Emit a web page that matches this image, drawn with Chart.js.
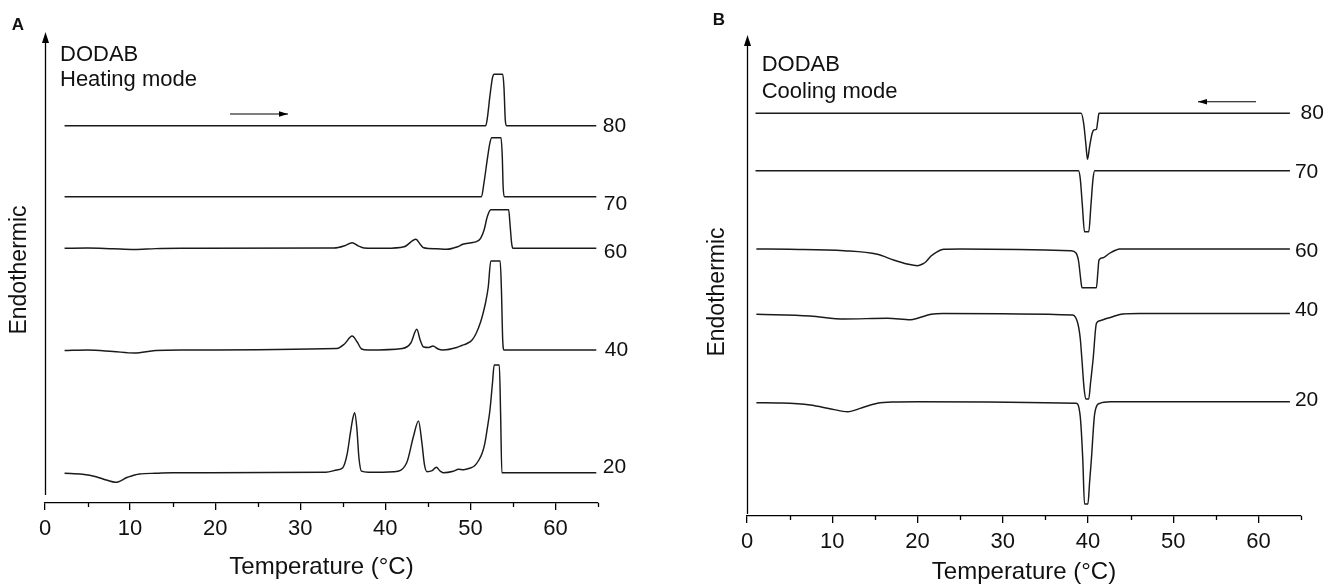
<!DOCTYPE html>
<html><head><meta charset="utf-8">
<script src="https://cdn.jsdelivr.net/npm/chart.js@4.4.1/dist/chart.umd.min.js"></script>
<style>
html,body{margin:0;padding:0;background:#fff;}
#wrap{position:relative;width:1335px;height:584px;background:#fff;}
.panel{position:absolute;top:0;height:584px;}
#pA{left:0;width:667px;} #pB{left:667px;width:668px;}
</style></head><body>
<div id="wrap">
<div class="panel" id="pA"><canvas id="cA" width="667" height="584"></canvas></div>
<div class="panel" id="pB"><canvas id="cB" width="668" height="584"></canvas></div>
</div>
<script>
// ---------- data ----------
const xTicksMajor = [0,10,20,30,40,50,60];
const tickLabels  = ['0','10','20','30','40','50','60'];
const xTicksMinor = [5,15,25,35,45,55,65];
const rateLabels  = ['80','70','60','40','20'];

// Heating mode (panel A): temperature (°C) and heat flow relative to baseline (a.u.)
const heatOffsets = [377.3, 306.3, 254.7, 153, 30.3];
const heatT80 = [2.3, 30, 51.8, 52.0, 52.3, 52.6, 52.8, 53.8, 53.95, 54.1, 54.25, 64.8];
const heatQ80 = [0, 0, 0, 8, 30, 48, 51.4, 51.4, 38, 6, 0, 0];
const heatT70 = [2.3, 30, 51.3, 51.6, 52.0, 52.3, 52.5, 53.6, 53.75, 53.85, 54.0, 64.8];
const heatQ70 = [0, 0, 0, 14, 38, 54, 59, 59, 40, 10, 0, 0];
const heatT60 = [2.3, 5, 8, 10.5, 13, 16, 34, 35.2, 36.1, 36.8, 37.5, 40, 42.2, 43.6, 44.1, 44.5, 46, 47.2, 48.5, 49.1, 50.1, 50.7, 51.2, 51.6, 52.0, 52.4, 54.5, 54.65, 54.85, 55.0, 64.8];
const heatQ60 = [0, 0.3, -0.5, -1.2, -0.3, 0, 0.3, 2.5, 5.6, 2.5, 0.3, 0, 1.5, 9, 4, 0.5, -0.5, -1, 1.5, 4, 5.5, 6.6, 10, 18, 32, 38.6, 38.6, 25, 5, 0, 0];
const heatT40 = [2.3, 5, 8, 10.5, 13, 16, 34.3, 35.2, 36.1, 36.7, 37.2, 38, 42, 43, 43.7, 44.1, 44.5, 45.1, 45.6, 46.2, 46.8, 48.4, 49.0, 49.6, 50.2, 50.7, 51.2, 51.5, 51.8, 52.1, 52.4, 53.5, 53.65, 53.8, 53.95, 64.8];
const heatQ40 = [-0.5, 0, -1.5, -3, -0.5, 0, 1.5, 6, 14, 8, 1, 0, 1.5, 7, 20.7, 10, 3, 2.5, 4, 1, 0, 2.5, 4.5, 6.5, 10, 17, 28, 37, 48, 63, 89, 89, 60, 10, 0, 0];
const heatT20 = [2.3, 4.4, 6, 7.2, 8.3, 9.7, 11.1, 13, 15, 33, 34.3, 35.0, 35.5, 35.9, 36.2, 36.4, 36.65, 36.9, 37.2, 38, 41, 42.5, 43.3, 43.9, 44.3, 44.6, 44.9, 45.5, 46.0, 46.4, 46.8, 48.0, 48.6, 49.2, 49.9, 50.5, 51.0, 51.4, 51.7, 52.0, 52.3, 52.6, 52.8, 53.4, 53.55, 53.7, 64.8];
const heatQ20 = [-0.6, -1.6, -4, -7.3, -9.6, -4.6, -1.3, -0.6, 0, 0.5, 2.7, 5, 18, 40, 55, 60, 45, 15, 1.5, 0.5, 1, 9.7, 36, 51.7, 30, 8, 1, 2, 5.4, 2, 0, 1.5, 3.4, 3, 4.4, 7, 12.7, 20, 29.4, 45, 62.7, 90, 107.7, 107.7, 60, 0, 0];

// Cooling mode (panel B)
const coolOffsets = [402.7, 345.3, 267, 202.5, 114.3];
const coolT80 = [1.0, 30, 39.2, 39.5, 39.75, 39.95, 40.2, 40.5, 40.7, 41.0, 41.15, 41.3, 63.7];
const coolQ80 = [0, 0, 0, -10, -30, -46, -33, -20, -16.7, -16, -8, 0, 0];
const coolT70 = [1.0, 38.9, 39.1, 39.35, 39.6, 40.1, 40.35, 40.6, 40.8, 63.7];
const coolQ70 = [0, 0, -8, -35, -61, -61, -35, -8, 0, 0];
const coolT60 = [1.1, 5, 11.4, 15.3, 17.2, 18.8, 20.0, 20.6, 21.0, 21.6, 22.2, 23.1, 25, 38.0, 38.6, 38.9, 39.15, 39.3, 41.0, 41.15, 41.3, 41.8, 42.5, 43.3, 43.7, 63.7];
const coolQ60 = [0, -0.3, -1.7, -5.3, -11, -15, -16.7, -15, -12.7, -7, -3.3, -0.3, 0, -1.7, -4, -12, -30, -38.7, -38.7, -25, -11, -8.7, -4.5, -1, 0, 0];
const coolT40 = [1.1, 7.4, 11.4, 16.5, 19.2, 20.0, 21.6, 23, 38.2, 38.8, 39.1, 39.3, 39.55, 39.75, 40.1, 40.3, 40.6, 41.0, 41.4, 42.1, 42.9, 44.1, 46, 63.7];
const coolQ40 = [-0.8, -2.5, -5.5, -4.8, -6.2, -4.8, -0.8, 0, -1.5, -9.5, -25, -46.5, -75, -85.5, -85.5, -70, -46.5, -9.8, -7.2, -5.3, -3.2, -0.5, 0, 0];
const coolT20 = [1.1, 4, 7.4, 10, 11.8, 13.5, 15.3, 17.2, 20, 38.6, 39.1, 39.4, 39.6, 40.0, 40.2, 40.4, 40.8, 41.4, 42.6, 63.7];
const coolQ20 = [-1, -1.3, -3.3, -7.5, -10, -6, -1.6, -0.3, 0, -1.6, -15, -58.3, -102.3, -102.3, -80, -58.3, -11.6, -1.6, 0, 0];

// ---------- build ----------
const FONT = '"Liberation Sans", Arial, Helvetica, sans-serif';
const INK = '#111';
const LINE = '#1a1a1a';

function makeSets(Ts, Qs, offs){
  return Ts.map((T, i) => ({
    label: rateLabels[i],
    data: T.map((t, j) => ({x: t, y: Qs[i][j] + offs[i]})),
    borderColor: LINE, borderWidth: 1.45, pointRadius: 0, fill: false,
    cubicInterpolationMode: 'monotone'
  }));
}

const decor = {
  id: 'decor',
  afterDraw(chart, args, o){
    const ctx = chart.ctx, a = chart.chartArea;
    const xs = chart.scales.x, ys = chart.scales.y;
    ctx.save();
    ctx.strokeStyle = '#000'; ctx.fillStyle = '#000'; ctx.lineWidth = 1.3;
    // minor ticks
    for (const v of xTicksMinor){
      const px = Math.round(xs.getPixelForValue(v)) + 0.5;
      ctx.beginPath(); ctx.moveTo(px, a.bottom); ctx.lineTo(px, a.bottom + o.minorLen); ctx.stroke();
    }
    // y axis with arrow
    const yx = Math.round(a.left) + 0.5;
    ctx.beginPath(); ctx.moveTo(yx, a.bottom - o.yGap); ctx.lineTo(yx, a.top + 8); ctx.stroke();
    ctx.beginPath(); ctx.moveTo(yx, a.top); ctx.lineTo(yx - 3.5, a.top + 11); ctx.lineTo(yx + 3.5, a.top + 11); ctx.closePath(); ctx.fill();
    // direction arrow
    const ar = o.arrow;
    ctx.lineWidth = 1.1;
    ctx.beginPath(); ctx.moveTo(ar.x0, ar.y); ctx.lineTo(ar.x1, ar.y); ctx.stroke();
    const dir = Math.sign(ar.x1 - ar.x0);
    ctx.beginPath(); ctx.moveTo(ar.x1, ar.y); ctx.lineTo(ar.x1 - dir*9, ar.y - 2.8); ctx.lineTo(ar.x1 - dir*9, ar.y + 2.8); ctx.closePath(); ctx.fill();
    // texts
    ctx.fillStyle = INK;
    ctx.textBaseline = 'middle'; ctx.textAlign = 'center';
    ctx.font = 'bold 17px ' + FONT;
    ctx.fillText(o.letter.text, o.letter.x, o.letter.y);
    ctx.textAlign = 'left';
    ctx.font = '22px ' + FONT;
    o.notes.forEach(n => ctx.fillText(n.text, n.x, n.y));
    // y title
    ctx.save();
    ctx.translate(o.yTitle.x, o.yTitle.y); ctx.rotate(-Math.PI/2);
    ctx.textAlign = 'center'; ctx.font = '23px ' + FONT;
    ctx.fillText('Endothermic', 0, 0);
    ctx.restore();
    // curve labels
    ctx.font = '21px ' + FONT; ctx.textAlign = 'left'; ctx.textBaseline = 'alphabetic';
    chart.data.datasets.forEach((ds, i) => {
      const last = ds.data[ds.data.length - 1];
      const base = o.offsets[i];
      const px = xs.getPixelForValue(last.x) + o.labelGap[i];
      const py = ys.getPixelForValue(base) + o.labelDy[i] + 7.5;
      ctx.fillText(ds.label, px, py);
    });
    ctx.restore();
  }
};

function xScale(h, padBottom){
  return {
    type: 'linear', min: 0, max: 65,
    afterFit(s){ s.height = h; },
    border: {display: true, color: '#000', width: 1.3},
    grid: {display: true, drawOnChartArea: false, drawTicks: true, tickLength: 7, color: '#000', lineWidth: 1.3},
    ticks: {stepSize: 10, includeBounds: false, padding: 6, color: INK, autoSkip: false, maxRotation: 0,
      font: {family: FONT, size: 22},
      callback: (v) => { const k = xTicksMajor.indexOf(v); return k >= 0 ? tickLabels[k] : ''; }},
    title: {display: true, text: 'Temperature (°C)', color: INK, font: {family: FONT, size: 24}, padding: {top: 0, bottom: padBottom}}
  };
}
function yScale(w, max){
  return {
    type: 'linear', min: 0, max: max, display: true,
    afterFit(s){ s.width = w; },
    border: {display: false}, grid: {display: false}, ticks: {display: false}, title: {display: false}
  };
}

function makeChart(id, sets, cfg){
  return new Chart(document.getElementById(id), {
    type: 'line',
    data: {datasets: sets},
    options: {
      responsive: false, animation: false, devicePixelRatio: 1,
      layout: {padding: cfg.padding},
      plugins: {legend: {display: false}, tooltip: {enabled: false}, decor: cfg.decor},
      scales: {x: xScale(cfg.xH, cfg.titlePad), y: yScale(cfg.yW, cfg.yMax)}
    },
    plugins: [decor]
  });
}

makeChart('cA', makeSets([heatT80, heatT70, heatT60, heatT40, heatT20], [heatQ80, heatQ70, heatQ60, heatQ40, heatQ20], heatOffsets), {
  padding: {left: 0, top: 32, right: 69, bottom: 0}, xH: 81, yW: 45, yMax: 471, titlePad: 2,
  decor: {
    minorLen: 4, yGap: 8,
    arrow: {x0: 230, x1: 288, y: 114},
    letter: {text: 'A', x: 18, y: 25},
    notes: [{text: 'DODAB', x: 60, y: 55}, {text: 'Heating mode', x: 60, y: 80}],
    yTitle: {x: 20, y: 270},
    offsets: heatOffsets,
    labelGap: [6.5, 7.5, 7.5, 8.5, 6.5],
    labelDy: [-1.7, 5.3, 2.4, -2, -7.7]
  }
});

makeChart('cB', makeSets([coolT80, coolT70, coolT60, coolT40, coolT20], [coolQ80, coolQ70, coolQ60, coolQ40, coolQ20], coolOffsets), {
  padding: {left: 0, top: 35, right: 34, bottom: 0}, xH: 68, yW: 80, yMax: 481, titlePad: -3,
  decor: {
    minorLen: 4, yGap: 2,
    arrow: {x0: 589, x1: 531, y: 101.7},
    letter: {text: 'B', x: 52, y: 20},
    notes: [{text: 'DODAB', x: 94.7, y: 65}, {text: 'Cooling mode', x: 94.7, y: 91.7}],
    yTitle: {x: 51, y: 292},
    offsets: coolOffsets,
    labelGap: [10.7, 5, 5, 5, 5],
    labelDy: [-1.6, -0.7, 0.3, -5.2, -3.4]
  }
});
</script>
</body></html>
